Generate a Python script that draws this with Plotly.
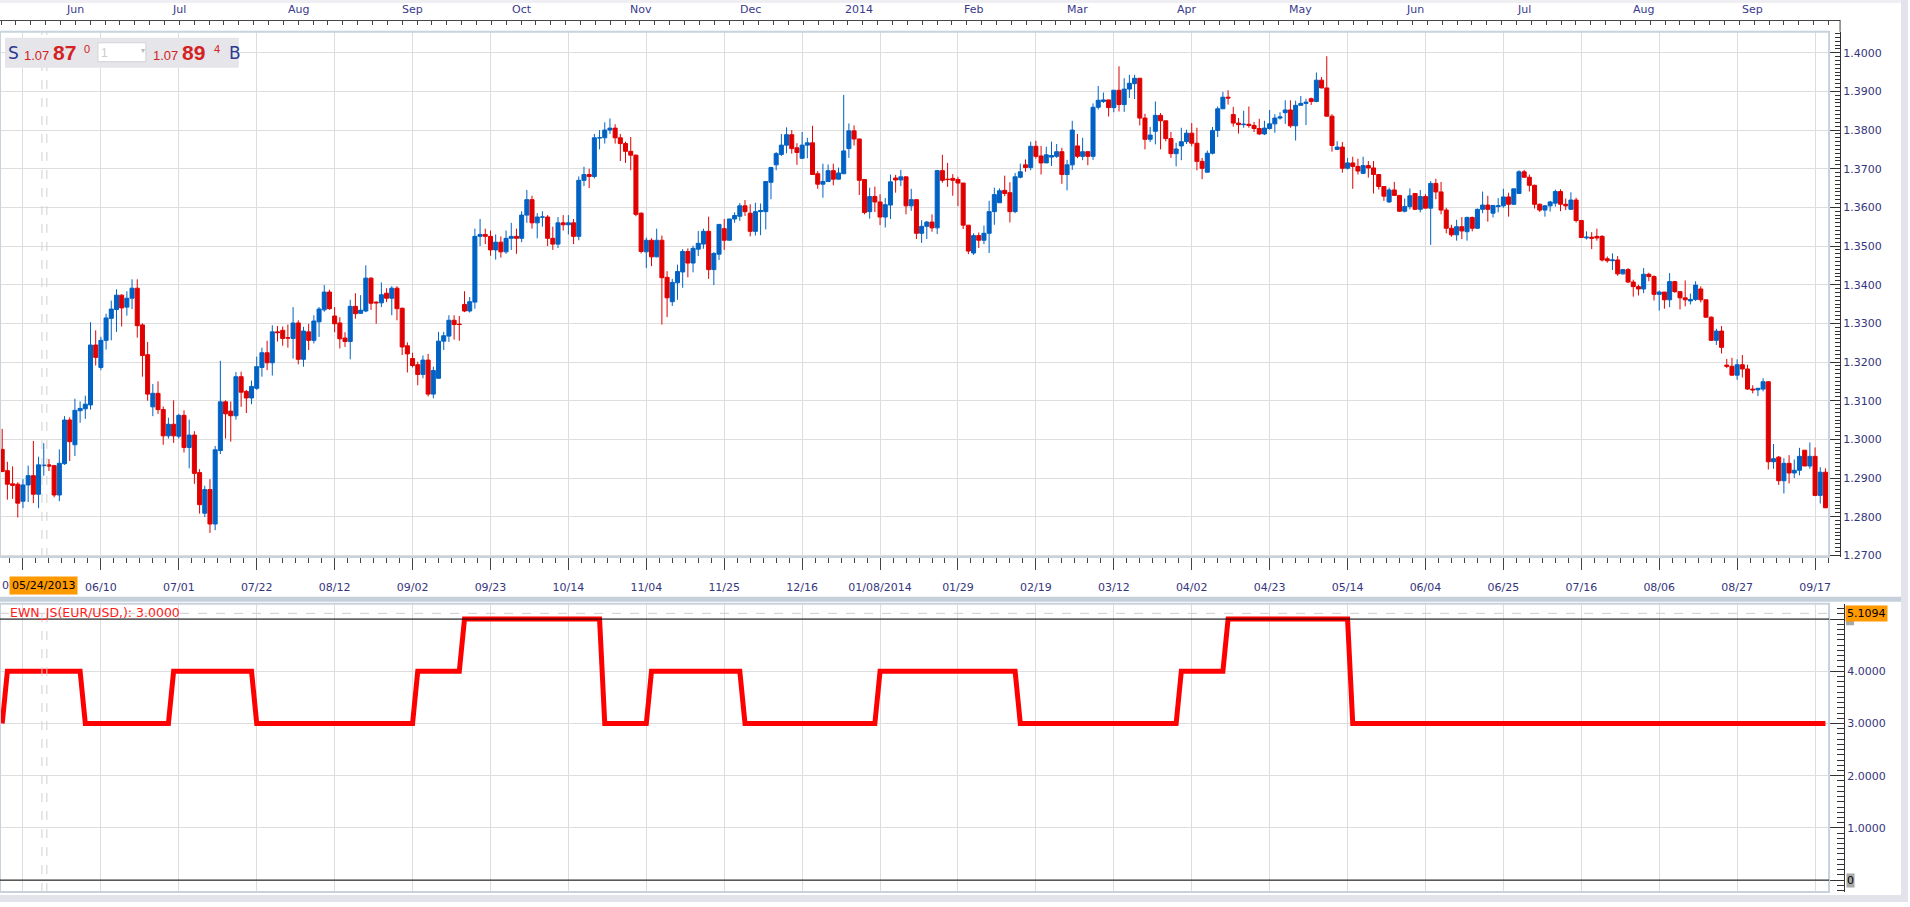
import pandas as pd
import plotly.graph_objects as go

# ---------------- data ----------------
holidays = ["2013-12-25", "2014-01-01"]
dates = [d for d in pd.bdate_range("2013-05-14", "2014-09-19")
         if d.strftime("%Y-%m-%d") not in holidays]

opens = [
    1.2974, 1.2919, 1.2885, 1.2884, 1.2840, 1.2882, 1.2906, 1.2858, 1.2932, 1.2934,
    1.2932, 1.2856, 1.2937, 1.3050, 1.2986, 1.3074, 1.3079, 1.3089, 1.3244, 1.3186,
    1.3256, 1.3313, 1.3336, 1.3373, 1.3342, 1.3365, 1.3391, 1.3296, 1.3219, 1.3084,
    1.3119, 1.3077, 1.3009, 1.3039, 1.3008, 1.3062, 1.2979, 1.3011, 1.2914, 1.2809,
    1.2870, 1.2781, 1.2971, 1.3097, 1.3073, 1.3061, 1.3162, 1.3124, 1.3107, 1.3132,
    1.3186, 1.3224, 1.3198, 1.3278, 1.3282, 1.3263, 1.3261, 1.3301, 1.3207, 1.3278,
    1.3256, 1.3304, 1.3335, 1.3381, 1.3319, 1.3301, 1.3262, 1.3253, 1.3344, 1.3326,
    1.3332, 1.3417, 1.3355, 1.3353, 1.3378, 1.3365, 1.3391, 1.3339, 1.3242, 1.3209,
    1.3193, 1.3168, 1.3205, 1.3117, 1.3158, 1.3254, 1.3267, 1.3308, 1.3298, 1.3349,
    1.3332, 1.3355, 1.3525, 1.3530, 1.3525, 1.3490, 1.3510, 1.3485, 1.3520, 1.3525,
    1.3520, 1.3580, 1.3620, 1.3560, 1.3575, 1.3575, 1.3520, 1.3505, 1.3560, 1.3555,
    1.3560, 1.3525, 1.3670, 1.3685, 1.3680, 1.3780, 1.3780, 1.3800, 1.3805, 1.3780,
    1.3765, 1.3745, 1.3735, 1.3585, 1.3485, 1.3515, 1.3472, 1.3515, 1.3419, 1.3356,
    1.3405, 1.3433, 1.3486, 1.3456, 1.3492, 1.3505, 1.3538, 1.3439, 1.3479, 1.3545,
    1.3515, 1.3570, 1.3577, 1.3604, 1.3585, 1.3538, 1.3589, 1.3589, 1.3665, 1.3710,
    1.3737, 1.3761, 1.3788, 1.3754, 1.3727, 1.3761, 1.3767, 1.3687, 1.3660, 1.3667,
    1.3695, 1.3673, 1.3687, 1.3752, 1.3798, 1.3777, 1.3672, 1.3589, 1.3628, 1.3614,
    1.3575, 1.3606, 1.3676, 1.3671, 1.3679, 1.3604, 1.3620, 1.3533, 1.3551, 1.3562,
    1.3547, 1.3695, 1.3673, 1.3675, 1.3672, 1.3663, 1.3554, 1.3482, 1.3527, 1.3515,
    1.3533, 1.3589, 1.3612, 1.3644, 1.3638, 1.3589, 1.3678, 1.3710, 1.3703, 1.3758,
    1.3733, 1.3715, 1.3730, 1.3732, 1.3744, 1.3685, 1.3710, 1.3759, 1.3732, 1.3744,
    1.3732, 1.3859, 1.3874, 1.3878, 1.3858, 1.3903, 1.3866, 1.3906, 1.3920, 1.3934,
    1.3831, 1.3776, 1.3797, 1.3838, 1.3824, 1.3778, 1.3739, 1.3759, 1.3770, 1.3792,
    1.3766, 1.3719, 1.3691, 1.3740, 1.3799, 1.3855, 1.3885, 1.3840, 1.3818, 1.3814,
    1.3815, 1.3812, 1.3804, 1.3790, 1.3804, 1.3816, 1.3831, 1.3845, 1.3852, 1.3811,
    1.3864, 1.3869, 1.3881, 1.3874, 1.3929, 1.3909, 1.3836, 1.3750, 1.3756, 1.3701,
    1.3715, 1.3706, 1.3688, 1.3708, 1.3702, 1.3685, 1.3654, 1.3614, 1.3645, 1.3631,
    1.3590, 1.3602, 1.3636, 1.3595, 1.3628, 1.3598, 1.3662, 1.3640, 1.3593, 1.3546,
    1.3529, 1.3550, 1.3537, 1.3574, 1.3546, 1.3595, 1.3606, 1.3585, 1.3602, 1.3604,
    1.3627, 1.3608, 1.3636, 1.3692, 1.3678, 1.3657, 1.3608, 1.3593, 1.3604, 1.3611,
    1.3641, 1.3608, 1.3595, 1.3619, 1.3566, 1.3521, 1.3523, 1.3525, 1.3525, 1.3467,
    1.3462, 1.3464, 1.3428, 1.3439, 1.3407, 1.3395, 1.3389, 1.3427, 1.3421, 1.3375,
    1.3381, 1.3361, 1.3408, 1.3382, 1.3366, 1.3358, 1.3362, 1.3389, 1.3361, 1.3316,
    1.3256, 1.3280, 1.3192, 1.3189, 1.3166, 1.3193, 1.3182, 1.3130, 1.3128, 1.3130,
    1.3149, 1.2942, 1.2954, 1.2893, 1.2938, 1.2913, 1.2920, 1.2972, 1.2931, 1.2956,
    1.2855, 1.2915,
]
highs = [
    1.3027, 1.2942, 1.2930, 1.2889, 1.2897, 1.2932, 1.2996, 1.2955, 1.2990, 1.2949,
    1.2934, 1.2974, 1.3060, 1.3057, 1.3105, 1.3098, 1.3113, 1.3303, 1.3282, 1.3265,
    1.3325, 1.3359, 1.3388, 1.3375, 1.3383, 1.3414, 1.3414, 1.3300, 1.3252, 1.3143,
    1.3150, 1.3085, 1.3056, 1.3101, 1.3066, 1.3075, 1.3051, 1.3021, 1.2923, 1.2880,
    1.2897, 1.2983, 1.3203, 1.3101, 1.3098, 1.3174, 1.3175, 1.3128, 1.3152, 1.3214,
    1.3237, 1.3255, 1.3295, 1.3293, 1.3292, 1.3297, 1.3342, 1.3308, 1.3291, 1.3299,
    1.3321, 1.3342, 1.3399, 1.3387, 1.3342, 1.3316, 1.3277, 1.3361, 1.3378, 1.3373,
    1.3450, 1.3419, 1.3357, 1.3406, 1.3391, 1.3396, 1.3396, 1.3341, 1.3251, 1.3224,
    1.3201, 1.3217, 1.3221, 1.3188, 1.3278, 1.3278, 1.3321, 1.3321, 1.3319, 1.3383,
    1.3368, 1.3545, 1.3570, 1.3545, 1.3540, 1.3530, 1.3525, 1.3540, 1.3560, 1.3545,
    1.3590, 1.3645, 1.3630, 1.3585, 1.3590, 1.3580, 1.3550, 1.3575, 1.3580, 1.3580,
    1.3570, 1.3680, 1.3705, 1.3700, 1.3790, 1.3800, 1.3820, 1.3830, 1.3815, 1.3790,
    1.3770, 1.3782, 1.3737, 1.3587, 1.3522, 1.3520, 1.3545, 1.3527, 1.3435, 1.3415,
    1.3452, 1.3492, 1.3494, 1.3501, 1.3539, 1.3545, 1.3576, 1.3484, 1.3557, 1.3570,
    1.3570, 1.3587, 1.3611, 1.3619, 1.3608, 1.3612, 1.3610, 1.3667, 1.3705, 1.3743,
    1.3790, 1.3807, 1.3800, 1.3766, 1.3795, 1.3780, 1.3811, 1.3694, 1.3713, 1.3711,
    1.3713, 1.3703, 1.3891, 1.3817, 1.3812, 1.3777, 1.3672, 1.3651, 1.3654, 1.3634,
    1.3624, 1.3685, 1.3684, 1.3697, 1.3679, 1.3648, 1.3620, 1.3567, 1.3565, 1.3582,
    1.3697, 1.3736, 1.3715, 1.3686, 1.3679, 1.3663, 1.3554, 1.3533, 1.3535, 1.3553,
    1.3617, 1.3651, 1.3649, 1.3682, 1.3665, 1.3689, 1.3713, 1.3724, 1.3770, 1.3772,
    1.3759, 1.3757, 1.3770, 1.3764, 1.3754, 1.3723, 1.3824, 1.3790, 1.3780, 1.3746,
    1.3869, 1.3914, 1.3897, 1.3878, 1.3903, 1.3965, 1.3934, 1.3943, 1.3943, 1.3934,
    1.3842, 1.3808, 1.3874, 1.3844, 1.3824, 1.3795, 1.3767, 1.3806, 1.3801, 1.3818,
    1.3806, 1.3728, 1.3747, 1.3808, 1.3861, 1.3899, 1.3903, 1.3860, 1.3831, 1.3850,
    1.3861, 1.3821, 1.3829, 1.3824, 1.3852, 1.3841, 1.3846, 1.3877, 1.3877, 1.3876,
    1.3888, 1.3881, 1.3884, 1.3949, 1.3937, 1.3991, 1.3841, 1.3771, 1.3769, 1.3728,
    1.3731, 1.3726, 1.3731, 1.3720, 1.3720, 1.3685, 1.3654, 1.3651, 1.3666, 1.3631,
    1.3623, 1.3649, 1.3636, 1.3645, 1.3634, 1.3668, 1.3674, 1.3666, 1.3599, 1.3555,
    1.3568, 1.3575, 1.3576, 1.3576, 1.3597, 1.3641, 1.3630, 1.3605, 1.3624, 1.3648,
    1.3638, 1.3648, 1.3696, 1.3697, 1.3685, 1.3659, 1.3610, 1.3606, 1.3617, 1.3646,
    1.3647, 1.3623, 1.3639, 1.3625, 1.3566, 1.3538, 1.3536, 1.3545, 1.3528, 1.3473,
    1.3481, 1.3474, 1.3440, 1.3443, 1.3413, 1.3400, 1.3443, 1.3431, 1.3424, 1.3385,
    1.3381, 1.3430, 1.3409, 1.3382, 1.3411, 1.3377, 1.3409, 1.3396, 1.3361, 1.3318,
    1.3286, 1.3293, 1.3208, 1.3211, 1.3207, 1.3218, 1.3193, 1.3140, 1.3133, 1.3158,
    1.3150, 1.2988, 1.2957, 1.2951, 1.2959, 1.2948, 1.2978, 1.2972, 1.2992, 1.2979,
    1.2928, 1.2925,
]
lows = [
    1.2915, 1.2844, 1.2846, 1.2798, 1.2822, 1.2838, 1.2835, 1.2822, 1.2906, 1.2918,
    1.2850, 1.2840, 1.2934, 1.2944, 1.2957, 1.3043, 1.3053, 1.3077, 1.3191, 1.3179,
    1.3232, 1.3256, 1.3278, 1.3292, 1.3320, 1.3337, 1.3263, 1.3162, 1.3100, 1.3060,
    1.3066, 1.2986, 1.3002, 1.2991, 1.3002, 1.2966, 1.2925, 1.2885, 1.2808, 1.2799,
    1.2758, 1.2765, 1.2962, 1.3002, 1.2994, 1.3051, 1.3084, 1.3068, 1.3091, 1.3128,
    1.3162, 1.3179, 1.3165, 1.3253, 1.3242, 1.3237, 1.3209, 1.3194, 1.3188, 1.3231,
    1.3248, 1.3265, 1.3330, 1.3335, 1.3277, 1.3235, 1.3239, 1.3207, 1.3312, 1.3325,
    1.3329, 1.3335, 1.3299, 1.3342, 1.3355, 1.3321, 1.3308, 1.3218, 1.3173, 1.3186,
    1.3140, 1.3158, 1.3111, 1.3106, 1.3157, 1.3231, 1.3252, 1.3258, 1.3255, 1.3329,
    1.3328, 1.3338, 1.3500, 1.3505, 1.3475, 1.3465, 1.3470, 1.3480, 1.3490, 1.3480,
    1.3510, 1.3560, 1.3545, 1.3520, 1.3550, 1.3500, 1.3490, 1.3495, 1.3540, 1.3530,
    1.3505, 1.3515, 1.3655, 1.3650, 1.3675, 1.3750, 1.3765, 1.3790, 1.3765, 1.3720,
    1.3715, 1.3696, 1.3577, 1.3481, 1.3443, 1.3448, 1.3471, 1.3297, 1.3316, 1.3345,
    1.3361, 1.3392, 1.3419, 1.3432, 1.3474, 1.3493, 1.3415, 1.3399, 1.3464, 1.3490,
    1.3515, 1.3560, 1.3565, 1.3578, 1.3525, 1.3527, 1.3528, 1.3543, 1.3621, 1.3696,
    1.3733, 1.3740, 1.3739, 1.3710, 1.3725, 1.3727, 1.3684, 1.3648, 1.3625, 1.3666,
    1.3657, 1.3672, 1.3687, 1.3728, 1.3760, 1.3632, 1.3582, 1.3571, 1.3588, 1.3554,
    1.3548, 1.3570, 1.3638, 1.3655, 1.3582, 1.3591, 1.3518, 1.3508, 1.3518, 1.3537,
    1.3531, 1.3664, 1.3653, 1.3630, 1.3603, 1.3544, 1.3479, 1.3477, 1.3495, 1.3505,
    1.3482, 1.3555, 1.3612, 1.3629, 1.3561, 1.3585, 1.3675, 1.3692, 1.3696, 1.3726,
    1.3685, 1.3715, 1.3707, 1.3728, 1.3661, 1.3644, 1.3697, 1.3727, 1.3722, 1.3709,
    1.3723, 1.3853, 1.3870, 1.3835, 1.3846, 1.3848, 1.3847, 1.3883, 1.3880, 1.3812,
    1.3750, 1.3769, 1.3763, 1.3750, 1.3771, 1.3728, 1.3706, 1.3722, 1.3764, 1.3758,
    1.3696, 1.3673, 1.3690, 1.3737, 1.3782, 1.3855, 1.3866, 1.3809, 1.3791, 1.3806,
    1.3806, 1.3795, 1.3787, 1.3787, 1.3801, 1.3793, 1.3827, 1.3816, 1.3806, 1.3773,
    1.3864, 1.3813, 1.3865, 1.3872, 1.3908, 1.3834, 1.3744, 1.3748, 1.3690, 1.3698,
    1.3648, 1.3685, 1.3687, 1.3677, 1.3636, 1.3646, 1.3617, 1.3612, 1.3630, 1.3588,
    1.3587, 1.3595, 1.3593, 1.3587, 1.3598, 1.3503, 1.3621, 1.3582, 1.3533, 1.3524,
    1.3514, 1.3518, 1.3514, 1.3538, 1.3544, 1.3585, 1.3563, 1.3574, 1.3587, 1.3599,
    1.3576, 1.3606, 1.3636, 1.3677, 1.3641, 1.3597, 1.3588, 1.3576, 1.3589, 1.3602,
    1.3590, 1.3593, 1.3593, 1.3561, 1.3521, 1.3517, 1.3492, 1.3514, 1.3460, 1.3457,
    1.3438, 1.3423, 1.3426, 1.3404, 1.3369, 1.3372, 1.3378, 1.3409, 1.3359, 1.3333,
    1.3338, 1.3342, 1.3379, 1.3336, 1.3344, 1.3349, 1.3358, 1.3354, 1.3315, 1.3255,
    1.3244, 1.3222, 1.3184, 1.3165, 1.3154, 1.3160, 1.3128, 1.3119, 1.3112, 1.3124,
    1.2922, 1.2924, 1.2882, 1.2860, 1.2886, 1.2900, 1.2907, 1.2931, 1.2924, 1.2853,
    1.2834, 1.2822,
]
closes = [
    1.2917, 1.2884, 1.2881, 1.2835, 1.2882, 1.2906, 1.2858, 1.2934, 1.2933, 1.2931,
    1.2856, 1.2938, 1.3050, 1.2994, 1.3075, 1.3080, 1.3091, 1.3244, 1.3212, 1.3256,
    1.3314, 1.3337, 1.3373, 1.3340, 1.3365, 1.3391, 1.3294, 1.3217, 1.3117, 1.3119,
    1.3077, 1.3009, 1.3039, 1.3009, 1.3062, 1.2979, 1.3011, 1.2912, 1.2831, 1.2870,
    1.2781, 1.2973, 1.3097, 1.3066, 1.3061, 1.3162, 1.3122, 1.3107, 1.3137, 1.3188,
    1.3224, 1.3198, 1.3278, 1.3276, 1.3261, 1.3262, 1.3301, 1.3207, 1.3280, 1.3256,
    1.3306, 1.3337, 1.3381, 1.3338, 1.3299, 1.3260, 1.3253, 1.3344, 1.3325, 1.3334,
    1.3417, 1.3352, 1.3353, 1.3374, 1.3365, 1.3391, 1.3338, 1.3239, 1.3221, 1.3191,
    1.3168, 1.3205, 1.3117, 1.3178, 1.3254, 1.3268, 1.3308, 1.3297, 1.3297, 1.3332,
    1.3356, 1.3525, 1.3530, 1.3525, 1.3490, 1.3510, 1.3485, 1.3520, 1.3525, 1.3520,
    1.3580, 1.3620, 1.3560, 1.3575, 1.3575, 1.3520, 1.3505, 1.3560, 1.3555, 1.3560,
    1.3525, 1.3670, 1.3685, 1.3680, 1.3780, 1.3780, 1.3800, 1.3805, 1.3780, 1.3765,
    1.3745, 1.3735, 1.3582, 1.3486, 1.3515, 1.3472, 1.3515, 1.3418, 1.3366, 1.3406,
    1.3434, 1.3486, 1.3456, 1.3494, 1.3507, 1.3538, 1.3439, 1.3481, 1.3556, 1.3515,
    1.3570, 1.3579, 1.3604, 1.3589, 1.3538, 1.3589, 1.3592, 1.3667, 1.3703, 1.3739,
    1.3761, 1.3788, 1.3752, 1.3742, 1.3761, 1.3767, 1.3685, 1.3660, 1.3667, 1.3695,
    1.3673, 1.3689, 1.3746, 1.3798, 1.3777, 1.3670, 1.3587, 1.3628, 1.3614, 1.3575,
    1.3607, 1.3666, 1.3671, 1.3679, 1.3604, 1.3620, 1.3533, 1.3551, 1.3562, 1.3547,
    1.3695, 1.3670, 1.3672, 1.3670, 1.3663, 1.3554, 1.3487, 1.3527, 1.3515, 1.3533,
    1.3589, 1.3633, 1.3643, 1.3636, 1.3589, 1.3679, 1.3692, 1.3703, 1.3758, 1.3732,
    1.3715, 1.3736, 1.3734, 1.3744, 1.3685, 1.3710, 1.3800, 1.3732, 1.3744, 1.3732,
    1.3859, 1.3877, 1.3878, 1.3858, 1.3903, 1.3866, 1.3906, 1.3921, 1.3934, 1.3831,
    1.3776, 1.3787, 1.3838, 1.3824, 1.3778, 1.3739, 1.3751, 1.3770, 1.3792, 1.3766,
    1.3719, 1.3701, 1.3740, 1.3799, 1.3855, 1.3885, 1.3883, 1.3818, 1.3814, 1.3815,
    1.3812, 1.3804, 1.3790, 1.3805, 1.3816, 1.3831, 1.3834, 1.3852, 1.3811, 1.3864,
    1.3869, 1.3872, 1.3874, 1.3929, 1.3909, 1.3836, 1.3760, 1.3756, 1.3701, 1.3715,
    1.3706, 1.3694, 1.3708, 1.3702, 1.3685, 1.3654, 1.3629, 1.3645, 1.3631, 1.3590,
    1.3602, 1.3630, 1.3595, 1.3628, 1.3598, 1.3662, 1.3640, 1.3593, 1.3546, 1.3529,
    1.3550, 1.3539, 1.3574, 1.3546, 1.3595, 1.3606, 1.3595, 1.3605, 1.3604, 1.3627,
    1.3608, 1.3648, 1.3692, 1.3678, 1.3657, 1.3608, 1.3593, 1.3604, 1.3614, 1.3641,
    1.3608, 1.3604, 1.3619, 1.3566, 1.3522, 1.3523, 1.3520, 1.3521, 1.3464, 1.3462,
    1.3464, 1.3428, 1.3439, 1.3407, 1.3395, 1.3389, 1.3427, 1.3421, 1.3375, 1.3381,
    1.3361, 1.3408, 1.3382, 1.3366, 1.3361, 1.3362, 1.3399, 1.3361, 1.3316, 1.3256,
    1.3280, 1.3238, 1.3189, 1.3166, 1.3193, 1.3182, 1.3130, 1.3128, 1.3132, 1.3149,
    1.2942, 1.2950, 1.2893, 1.2938, 1.2913, 1.2920, 1.2956, 1.2931, 1.2956, 1.2855,
    1.2915, 1.2823,
]

# EWN_JS indicator as (value, number of bars) runs
ewn_runs = [(3, 1), (4, 15), (3, 17), (4, 16), (3, 31), (4, 9), (5, 27), (3, 9),
            (4, 18), (3, 26), (4, 27), (3, 31), (4, 9), (5, 24), (3, 92)]
ewn = [v for v, n in ewn_runs for _ in range(n)]

cursor_date = "2013-05-24"
cursor_value = 5.1094
price_sell = ("1.07", "87", "0")
price_buy = ("1.07", "89", "4")
indicator_label = "EWN_JS(EUR/USD,): 3.0000"

# ---------------- derived categories ----------------
idx = list(range(len(dates)))
tick_idx = list(range(4, len(dates), 15))
tick_text = []
for n, k in enumerate(tick_idx):
    d = dates[k]
    if n > 0 and d.year != dates[tick_idx[n - 1]].year:
        tick_text.append(d.strftime("%m/%d/%Y"))
    else:
        tick_text.append(d.strftime("%m/%d"))
first_tick_text = tick_text[0]
tick_text[0] = ""          # hidden behind the cursor date box, only its first digit shows
month_idx = [k for k in range(1, len(dates)) if dates[k].month != dates[k - 1].month]
month_text = [dates[k].strftime("%Y") if dates[k].month == 1 else dates[k].strftime("%b")
              for k in month_idx]
cursor_k = [d.strftime("%Y-%m-%d") for d in dates].index(cursor_date)

# ---------------- style ----------------
W, H = 1910, 907
def px(x): return x / W
def py(y): return 1 - y / H

FONT = "DejaVu Sans"
LBL = "#35357c"
GRID = "#dddddd"
BLUE = "#0062c4"
RED = "#e10000"
FRAME = "#c8d2dd"
XR = [-0.423, 351.7]
XR3 = [-0.423, -0.423 + 1842 / 5.2]

fig = go.Figure()
fig.add_trace(go.Candlestick(
    x=idx, open=opens, high=highs, low=lows, close=closes,
    increasing=dict(line=dict(color=BLUE, width=1), fillcolor=BLUE),
    decreasing=dict(line=dict(color=RED, width=1), fillcolor=RED),
    whiskerwidth=0, xaxis="x", yaxis="y", showlegend=False))
fig.add_trace(go.Scatter(
    x=idx, y=ewn, mode="lines", line=dict(color="#ff0000", width=5),
    xaxis="x2", yaxis="y2", showlegend=False))
fig.add_trace(go.Scatter(
    x=month_idx, y=[-0.17] * len(month_idx), mode="markers",
    marker=dict(symbol="triangle-down", size=9, color="#f7a21b"),
    xaxis="x3", yaxis="y3", cliponaxis=False, showlegend=False))

tickfont = dict(family=FONT, size=11, color=LBL)

shapes = [
    dict(type="rect", xref="paper", yref="paper", x0=0, x1=1, y0=py(3), y1=1,
         fillcolor="#eeeef3", line=dict(width=0), layer="below"),
    dict(type="rect", xref="paper", yref="paper", x0=0, x1=1, y0=py(605), y1=py(600),
         fillcolor="#c6d0db", line=dict(width=0)),
    dict(type="rect", xref="paper", yref="paper", x0=px(1903), x1=1, y0=0, y1=1,
         fillcolor="#e3e3eb", line=dict(width=0)),
    dict(type="rect", xref="paper", yref="paper", x0=0, x1=1, y0=0, y1=py(900),
         fillcolor="#e3e3eb", line=dict(width=0)),
    dict(type="rect", xref="paper", yref="paper", x0=0, x1=px(1831), y0=py(560), y1=py(32),
         line=dict(color=FRAME, width=2)),
    dict(type="rect", xref="paper", yref="paper", x0=0, x1=px(1831), y0=py(897), y1=py(607),
         line=dict(color=FRAME, width=2)),
    dict(type="line", xref="paper", yref="paper", x0=px(1842), x1=px(1842), y0=py(32), y1=py(20),
         line=dict(color="#444", width=1)),
    # reference lines of the indicator panel
    dict(type="line", xref="x2 domain", yref="y2", x0=0, x1=1, y0=0, y1=0,
         line=dict(color="#000", width=1)),
    dict(type="line", xref="x2 domain", yref="y2", x0=0, x1=1, y0=5, y1=5,
         line=dict(color="#000", width=1)),
    dict(type="line", xref="x2 domain", yref="y2", x0=0, x1=1, y0=cursor_value, y1=cursor_value,
         line=dict(color="#cfcfcf", width=1, dash="dash")),
    # grey value tag of the 5-line, mostly hidden under the cursor value tag
    dict(type="rect", xref="paper", yref="y2", x0=px(1848), x1=px(1856), y0=4.88, y1=5.02,
         fillcolor="#a8a8a8", line=dict(width=0)),
]
for off in (-0.35, 0.6):
    for (a, b) in ((32, 560), (607, 897)):
        shapes.append(dict(type="line", xref="x", yref="paper",
                           x0=cursor_k + off, x1=cursor_k + off, y0=py(b), y1=py(a),
                           line=dict(color="#d0d0d0", width=1, dash="dash")))
# S / B quote box
shapes.append(dict(type="rect", xref="paper", yref="paper", x0=px(5), x1=px(239),
                   y0=py(68), y1=py(38), fillcolor="#e5e5ea", line=dict(width=0)))
shapes.append(dict(type="rect", xref="paper", yref="paper", x0=px(98), x1=px(146),
                   y0=py(62), y1=py(43), fillcolor="#ffffff", line=dict(color="#d4d4d4", width=1)))

def ann(text, x, y, size=11, color=LBL, family=FONT, xanchor="left", xref="paper",
        yref="paper", **kw):
    return dict(text=text, x=x, y=y, xref=xref, yref=yref, showarrow=False,
                xanchor=xanchor, yanchor="middle",
                font=dict(family=family, size=size, color=color), **kw)

QRED = "#d42222"
NAVY = "#2b3990"
annotations = [
    ann("S", px(6), py(53), size=17, color=NAVY),
    ann(price_sell[0], px(22), py(56), size=13, color=QRED, family="Liberation Sans"),
    ann("<b>%s</b>" % price_sell[1], px(51), py(53), size=21, color=QRED, family="Liberation Sans"),
    ann(price_sell[2], px(82), py(49), size=11, color=QRED, family="Liberation Sans"),
    ann("1", px(99), py(53), size=12, color="#cccccc", family="Liberation Sans"),
    ann("▾", px(139), py(51), size=8, color="#bbbbbb"),
    ann(price_buy[0], px(151), py(56), size=13, color=QRED, family="Liberation Sans"),
    ann("<b>%s</b>" % price_buy[1], px(180), py(53), size=21, color=QRED, family="Liberation Sans"),
    ann(price_buy[2], px(212), py(49), size=11, color=QRED, family="Liberation Sans"),
    ann("B", px(227), py(53), size=17, color=NAVY),
    ann(indicator_label, px(8), py(616), size=12.5, color="#ff1a1a"),
    ann(first_tick_text[0], px(0), py(589), size=11, color=LBL),
    ann(cursor_date[5:7] + "/" + cursor_date[8:10] + "/" + cursor_date[:4],
        cursor_k, py(589), size=11, color="#000", xanchor="center", xref="x",
        bgcolor="#ff9900", borderpad=2),
    ann("0", px(1848), 0, size=11, color="#000", yref="y2", bgcolor="#a8a8a8", borderpad=0),
    ann("%.4f" % cursor_value, px(1847), cursor_value, size=11, color="#000", yref="y2",
        bgcolor="#ff9900", borderpad=1),
]
for k, t in zip(month_idx, month_text):
    annotations.append(ann(t, k, py(10), size=11, color="#3a3a8c", xanchor="center", xref="x3"))

fig.update_layout(
    width=W, height=H, margin=dict(l=0, r=0, t=0, b=0),
    paper_bgcolor="white", plot_bgcolor="white", showlegend=False,
    boxgap=0.12, boxgroupgap=0.12,
    xaxis=dict(domain=[0, px(1831)], range=XR, anchor="y", tickmode="array",
               tickvals=tick_idx, ticktext=tick_text, showgrid=True, gridcolor=GRID,
               ticks="outside", ticklen=12, tickcolor="#444", showline=True,
               linecolor="#444", zeroline=False, tickfont=tickfont,
               ticklabelstandoff=8,
               minor=dict(tickmode="linear", tick0=4, dtick=2.5, ticks="outside",
                          ticklen=5, tickcolor="#444", showgrid=False),
               rangeslider=dict(visible=False)),
    yaxis=dict(domain=[py(560), py(32)], range=[1.26959, 1.40541], anchor="free",
               position=px(1842), side="right", tick0=1.27, dtick=0.01,
               tickformat=".4f", ticks="inside", ticklen=11, tickcolor="#333",
               showline=True, linecolor="#333", showgrid=True, gridcolor=GRID,
               zeroline=False, tickfont=tickfont,
               minor=dict(tick0=1.27, dtick=0.001, ticks="inside", ticklen=5,
                          tickcolor="#333", showgrid=False)),
    xaxis2=dict(domain=[0, px(1831)], range=XR, anchor="y2", tickmode="array",
                tickvals=tick_idx, showticklabels=False, showgrid=True, gridcolor=GRID,
                ticks="", showline=False, zeroline=False),
    yaxis2=dict(domain=[py(897), py(607)], range=[-0.229, 5.295], anchor="free",
                position=px(1846), side="right", tickmode="array",
                tickvals=[0, 1, 2, 3, 4, 5],
                ticktext=["", "1.0000", "2.0000", "3.0000", "4.0000", ""],
                ticks="inside", ticklen=15, tickcolor="#333", showline=True,
                linecolor="#333", showgrid=True, gridcolor=GRID, zeroline=False,
                tickfont=tickfont,
                minor=dict(tick0=0, dtick=0.1, ticks="inside", ticklen=7,
                           tickcolor="#333", showgrid=False)),
    xaxis3=dict(domain=[0, px(1842)], range=XR3, anchor="y3", showgrid=False,
                showticklabels=False, ticks="outside", ticklen=4, tickcolor="#444",
                tick0=2.65, dtick=2.86, showline=True, linecolor="#444", zeroline=False),
    yaxis3=dict(domain=[py(20), 1], range=[0, 1], visible=False),
    shapes=shapes, annotations=annotations,
)

fig.write_html("out.html")
